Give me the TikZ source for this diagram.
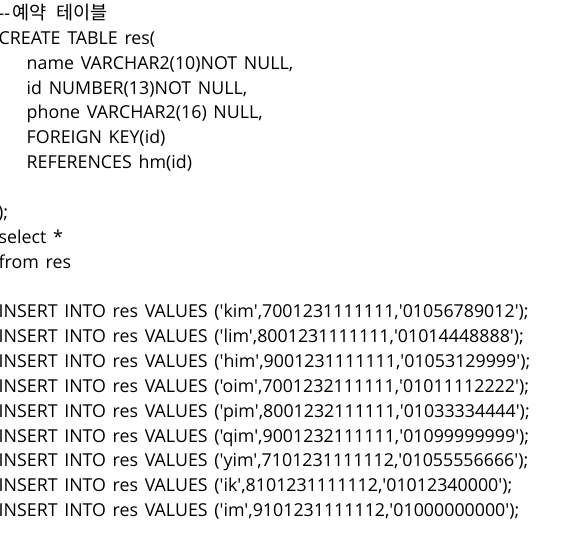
\documentclass[tikz,border=0pt]{standalone}
\usepackage{fontspec}
\newfontfamily\codefont{Open Sans}[Ligatures=TeXOff,WordSpace=1.45]
\newfontfamily\hangulfont{Noto Sans CJK KR}[Ligatures=TeXOff,WordSpace=2.2]
\tikzset{code line/.style={anchor=base west,inner sep=0,font=\codefont\fontsize{17.8}{20}\selectfont}}

\begin{document}
\begin{tikzpicture}[x=1pt,y=-1pt]
  \def\dy{24.86} % line pitch
  \def\xo{-1.5} % left margin of the text
  \def\xi{26.5} % indented columns
  \def\yo{19.5} % first baseline
  \useasboundingbox (0,0) rectangle (565,548);
  \clip (0,0) rectangle (565,548);

  % TABLE
  \node[code line] (cmt) at (\xo,\yo) {--\kern2.5pt{\hangulfont\fontsize{18.6}{20}\selectfont 예약 테이블}};
  \node[code line] (create) at (\xo,\yo+\dy) {CREATE TABLE res(};
  \node[code line] (colname) at (\xi,\yo+2*\dy) {name VARCHAR2(10)NOT NULL,};
  \node[code line] (colid) at (\xi,\yo+3*\dy) {id NUMBER(13)NOT NULL,};
  \node[code line] (colphone) at (\xi,\yo+4*\dy) {phone VARCHAR2(16) NULL,};
  \node[code line] (fkey) at (\xi,\yo+5*\dy) {FOREIGN KEY(id)};
  \node[code line] (refs) at (\xi,\yo+6*\dy) {REFERENCES hm(id)};
  \node[code line] (close) at (\xo-0.5,\yo+8*\dy) {);};

  % QUERY
  \node[code line] (sel) at (\xo,\yo+9*\dy) {select *};
  \node[code line] (from) at (\xo,\yo+10*\dy) {from res};

  % ROWS
  \node[code line] (ins1) at (\xo,\yo+12*\dy) {INSERT INTO res VALUES ('kim',7001231111111,'01056789012');};
  \node[code line] (ins2) at (\xo,\yo+13*\dy) {INSERT INTO res VALUES ('lim',8001231111111,'01014448888');};
  \node[code line] (ins3) at (\xo,\yo+14*\dy) {INSERT INTO res VALUES ('him',9001231111111,'01053129999');};
  \node[code line] (ins4) at (\xo,\yo+15*\dy) {INSERT INTO res VALUES ('oim',7001232111111,'01011112222');};
  \node[code line] (ins5) at (\xo,\yo+16*\dy) {INSERT INTO res VALUES ('pim',8001232111111,'01033334444');};
  \node[code line] (ins6) at (\xo,\yo+17*\dy) {INSERT INTO res VALUES ('qim',9001232111111,'01099999999');};
  \node[code line] (ins7) at (\xo,\yo+18*\dy) {INSERT INTO res VALUES ('yim',7101231111112,'01055556666');};
  \node[code line] (ins8) at (\xo,\yo+19*\dy) {INSERT INTO res VALUES ('ik',8101231111112,'01012340000');};
  \node[code line] (ins9) at (\xo,\yo+20*\dy) {INSERT INTO res VALUES ('im',9101231111112,'01000000000');};
\end{tikzpicture}
\end{document}
